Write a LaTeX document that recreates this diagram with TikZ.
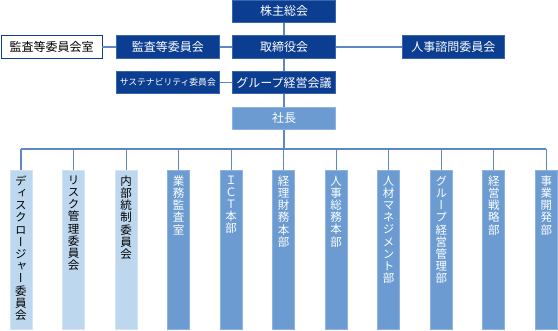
\documentclass[tikz,border=0pt]{standalone}
\usepackage{fontspec}
\newfontfamily\jp{Noto Sans CJK JP}
\newfontfamily\jpv[RawFeature=+vert]{Noto Sans CJK JP}
\definecolor{navy}{HTML}{0B3D91}
\definecolor{navyedge}{HTML}{3A66AE}
\definecolor{midblue}{HTML}{6B9BD1}
\definecolor{midedge}{HTML}{8DB3E0}
\definecolor{lightblue}{HTML}{BDD7EE}
\definecolor{lightedge}{HTML}{D3E4F4}
\definecolor{linec}{HTML}{5E88C2}
\tikzset{
  hbox/.style={rectangle, inner sep=0pt, minimum height=22.6pt, line width=0.7pt,
    font=\jp\fontsize{12}{14}\selectfont},
  navybox/.style={hbox, fill=navy, draw=navyedge, text=white},
  whitebox/.style={hbox, fill=white, draw=navy, text=black},
  midbox/.style={hbox, fill=midblue, draw=midedge, text=white},
  colbox/.style={rectangle, inner sep=0pt, minimum width=22pt, minimum height=159pt,
    anchor=north, line width=0.7pt},
  colmid/.style={colbox, fill=midblue, draw=midedge},
  collight/.style={colbox, fill=lightblue, draw=lightedge},
  vtext/.style={inner sep=0pt, anchor=north, align=center,
    font=\jpv\fontsize{11.5}{12.2}\selectfont},
  conn/.style={draw=linec, line width=1.2pt},
}
\begin{document}
\begin{tikzpicture}[x=1pt,y=-1pt]
\useasboundingbox (0,0) rectangle (558,330);
% top column
\node[navybox, minimum width=102.6pt] (kabu) at (284,11.3) {株主総会};
\node[navybox, minimum width=102.6pt] (tori) at (284,47) {取締役会};
\node[navybox, minimum width=102.6pt] (grp) at (284,82.5) {グループ経営会議};
\node[midbox, minimum width=102.6pt] (sha) at (284,118.3) {社長};
% side boxes
\node[whitebox, minimum width=101pt] (kshitsu) at (51.6,47) {監査等委員会室};
\node[navybox, minimum width=103pt] (kansa) at (167.8,47) {監査等委員会};
\node[navybox, minimum width=103pt, font=\jp\fontsize{8.8}{10}\selectfont] (sus) at (167.8,82.5) {サステナビリティ委員会};
\node[navybox, minimum width=102.7pt] (jinji) at (453.3,47) {人事諮問委員会};
% connectors
\draw[conn] (kabu) -- (tori);
\draw[conn] (tori) -- (grp);
\draw[conn] (grp) -- (sha);
\draw[conn] (kshitsu) -- (kansa);
\draw[conn] (kansa) -- (tori);
\draw[conn] (tori) -- (jinji);
\draw[conn] (sus) -- (grp);
\coordinate (bl) at (21,149);
\coordinate (br) at (546.3,149);
\draw[conn] (bl) -- (br);
\draw[conn] (sha.south) -- (sha.south |- bl);
% columns
\node[collight] (c1) at (21,170) {};
\node[collight] (c2) at (73.5,170) {};
\node[collight] (c3) at (126.1,170) {};
\node[colmid] (c4) at (178.6,170) {};
\node[colmid] (c5) at (231.1,170) {};
\node[colmid] (c6) at (283.7,170) {};
\node[colmid] (c7) at (336.2,170) {};
\node[colmid] (c8) at (388.7,170) {};
\node[colmid] (c9) at (441.3,170) {};
\node[colmid] (c10) at (493.8,170) {};
\node[colmid] (c11) at (546.3,170) {};
\foreach \i in {1,...,11} {
  \draw[conn] (c\i.north) -- (c\i.north |- bl);
}
% column texts
\node[vtext, text=black] (t1) at ([yshift=-5.5pt]c1.north) {デ\\ィ\\ス\\ク\\ロ\\ー\\ジ\\ャ\\ー\\委\\員\\会};
\node[vtext, text=black] (t2) at ([yshift=-5.5pt]c2.north) {リ\\ス\\ク\\管\\理\\委\\員\\会};
\node[vtext, text=black] (t3) at ([yshift=-5.5pt]c3.north) {内\\部\\統\\制\\委\\員\\会};
\node[vtext, text=white] (t4) at ([yshift=-5.5pt]c4.north) {業\\務\\監\\査\\室};
\node[vtext, text=white] (t5) at ([yshift=-5.5pt]c5.north) {Ｉ\\Ｃ\\Ｔ\\本\\部};
\node[vtext, text=white] (t6) at ([yshift=-5.5pt]c6.north) {経\\理\\財\\務\\本\\部};
\node[vtext, text=white] (t7) at ([yshift=-5.5pt]c7.north) {人\\事\\総\\務\\本\\部};
\node[vtext, text=white] (t8) at ([yshift=-5.5pt]c8.north) {人\\材\\マ\\ネ\\ジ\\メ\\ン\\ト\\部};
\node[vtext, text=white] (t9) at ([yshift=-5.5pt]c9.north) {グ\\ル\\ー\\プ\\経\\営\\管\\理\\部};
\node[vtext, text=white] (t10) at ([yshift=-5.5pt]c10.north) {経\\営\\戦\\略\\部};
\node[vtext, text=white] (t11) at ([yshift=-5.5pt]c11.north) {事\\業\\開\\発\\部};
\end{tikzpicture}
\end{document}
